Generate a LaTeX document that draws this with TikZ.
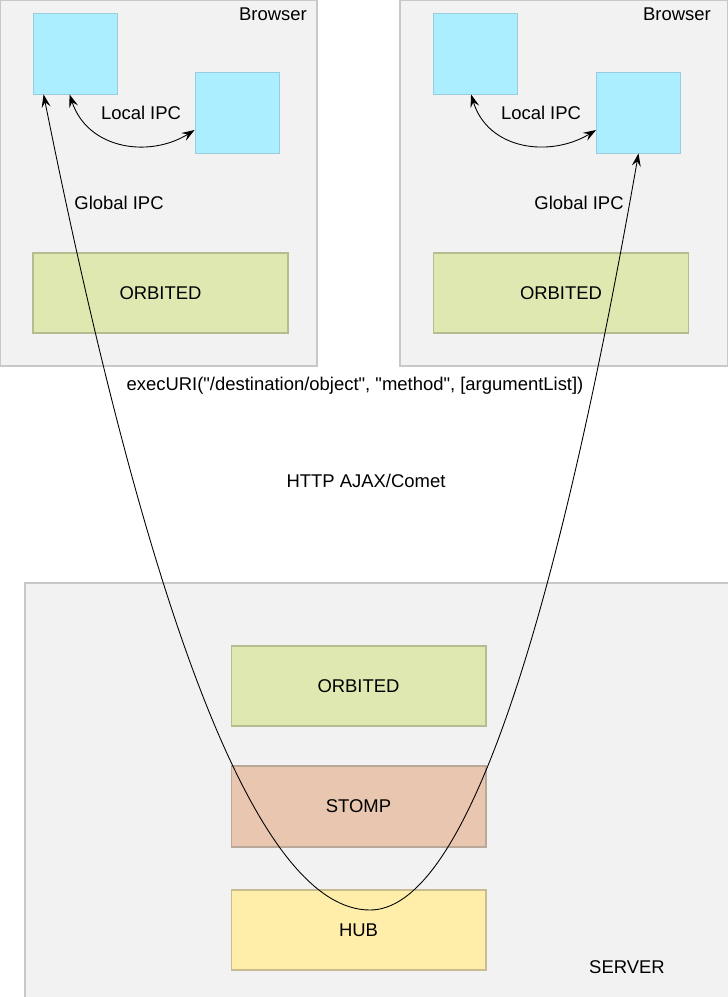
\documentclass[tikz,border=0pt]{standalone}
\usepackage{fontspec}
\setmainfont{Liberation Sans}
\usetikzlibrary{arrows.meta}
\definecolor{panelgray}{HTML}{F2F2F2}
\definecolor{panelline}{HTML}{C8C8C8}
\definecolor{ipcblue}{HTML}{AAEEFF}
\definecolor{ipcline}{HTML}{99CCDD}
\definecolor{orbgreen}{HTML}{DFE8B0}
\definecolor{orbline}{HTML}{B5BC90}
\definecolor{stompred}{HTML}{E8C6B0}
\definecolor{stompline}{HTML}{B8A898}
\definecolor{hubyellow}{HTML}{FFEEAA}
\definecolor{hubline}{HTML}{C8BC90}
\begin{document}
\begin{tikzpicture}[x=0.02cm,y=-0.02cm,font=\fontsize{10.5}{12}\selectfont,
  panel/.style={draw=panelline,fill=panelgray,line width=0.6pt},
  win/.style={draw=ipcline,fill=ipcblue,line width=0.5pt,minimum width=1.68cm,minimum height=1.62cm,inner sep=0pt},
  layer/.style={line width=0.6pt,minimum width=5.1cm,minimum height=1.6cm,inner sep=0pt},
  link/.style={{Stealth[length=2.6mm,width=1.8mm,inset=1mm]}-{Stealth[length=2.6mm,width=1.8mm,inset=1mm]},line width=0.5pt}]
 \useasboundingbox (0,0) rectangle (727,997);
 % browsers
 \draw[panel](0,0) rectangle (317,366);
 \draw[panel](400,0) rectangle (728,366);
 \node (lbrowser) at (273,14) {Browser};
 \node (rbrowser) at (677,14) {Browser};
 \node[win] (la) at (75,53.5) {};
 \node[win] (lb) at (237,112.5) {};
 \node[win] (ra) at (475.5,53.5) {};
 \node[win] (rb) at (638.5,112.5) {};
 \node[layer,draw=orbline,fill=orbgreen] (lorbited) at (160.5,293) {ORBITED};
 \node[layer,draw=orbline,fill=orbgreen] (rorbited) at (561,293) {ORBITED};
 \node (llocal) at (141,113) {Local IPC};
 \node (rlocal) at (541,113) {Local IPC};
 \node (lglobal) at (119,203) {Global IPC};
 \node (rglobal) at (579,203) {Global IPC};
 % server
 \draw[panel](25,583) rectangle (730,1000);
 \node[layer,draw=orbline,fill=orbgreen] (sorbited) at (358.5,686) {ORBITED};
 \node[layer,draw=stompline,fill=stompred,minimum height=1.62cm] (stomp) at (358.5,806.5) {STOMP};
 \node[layer,draw=hubline,fill=hubyellow] (hub) at (358.5,930) {HUB};
 \node (server) at (627,967) {SERVER};
 \node (exec) at (355,386) {execURI(\textquotedbl/destination/object\textquotedbl, \textquotedbl method\textquotedbl, [argumentList])};
 \node (http) at (366,481) {HTTP AJAX/Comet};
 % connectors
 \coordinate (dip) at (370,910);
 \draw[link]([xshift=0.74cm]la.south west) .. controls (88,150) and (150,158) .. ([yshift=-0.35cm]lb.west);
 \draw[link]([xshift=0.76cm]ra.south west) .. controls (488,150) and (550,158) .. ([yshift=-0.35cm]rb.west);
 \draw[link]([xshift=0.22cm]la.south west) .. controls (152.7,638) and (261.3,910) .. (dip) .. controls (460,910) and (550,657.7) .. (rb.south);
\end{tikzpicture}
\end{document}
